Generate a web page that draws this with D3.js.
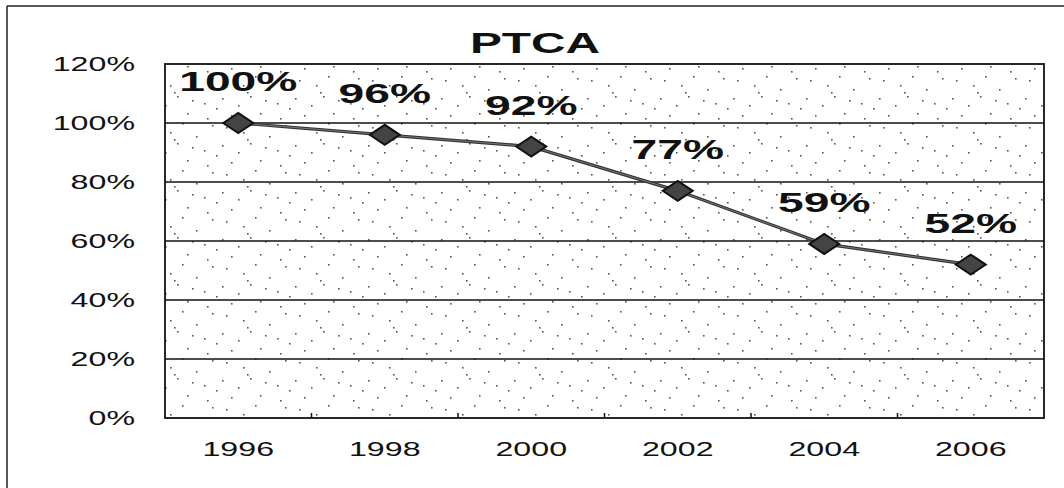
<!DOCTYPE html>
<html>
<head>
<meta charset="utf-8">
<script src="https://cdn.jsdelivr.net/npm/d3@7"></script>
<style>
  html, body { margin: 0; padding: 0; background: #fff; }
  svg { display: block; }
  text { font-family: Arial, "Liberation Sans", sans-serif; fill: #111; }
</style>
</head>
<body>
<svg id="chart" width="1064" height="488"></svg>
<script>
// ---- data ----
const categories = ["1996", "1998", "2000", "2002", "2004", "2006"];
const values = [100, 96, 92, 77, 59, 52];
const valueLabels = ["100%", "96%", "92%", "77%", "59%", "52%"];
const yTicks = [0, 20, 40, 60, 80, 100, 120];
const title = "PTCA";

// ---- layout ----
const W = 1064, H = 488;
const plot = { left: 165, right: 1044, top: 64, bottom: 418 };
const SX = 1.65; // horizontal stretch of the scanned original

const svg = d3.select("#chart");

// speckle texture (fixed, sparse pattern)
const defs = svg.append("defs");
const pat = defs.append("pattern")
  .attr("id", "speckle").attr("patternUnits", "userSpaceOnUse")
  .attr("width", 73).attr("height", 47);
[[3,4],[31,2],[58,9],[66,31],[12,21],[41,19],[24,38],[50,42],[7,33],[36,29],[70,14],[19,11],[46,6],[61,24],[28,45]]
  .forEach(([x, y]) => pat.append("rect").attr("x", x).attr("y", y)
    .attr("width", 1.6).attr("height", 1.6).attr("fill", "#555"));

// outer frame (top + left visible)
svg.append("line").attr("x1", 7).attr("x2", W).attr("y1", 6).attr("y2", 6)
  .attr("stroke", "#222").attr("stroke-width", 1.5);
svg.append("line").attr("x1", 7).attr("x2", 7).attr("y1", 6).attr("y2", H)
  .attr("stroke", "#222").attr("stroke-width", 1.5);

// scales
const x = d3.scaleBand().domain(categories).range([plot.left, plot.right]).padding(0);
const y = d3.scaleLinear().domain([0, 120]).range([plot.bottom, plot.top]);

// plot background
svg.append("rect")
  .attr("x", plot.left).attr("y", plot.top)
  .attr("width", plot.right - plot.left).attr("height", plot.bottom - plot.top)
  .attr("fill", "url(#speckle)");

// gridlines
svg.append("g").selectAll("line")
  .data(yTicks.filter(t => t > 0 && t < 120))
  .join("line")
  .attr("x1", plot.left).attr("x2", plot.right)
  .attr("y1", d => y(d)).attr("y2", d => y(d))
  .attr("stroke", "#111").attr("stroke-width", 1.6);

// plot border
svg.append("rect")
  .attr("x", plot.left).attr("y", plot.top)
  .attr("width", plot.right - plot.left).attr("height", plot.bottom - plot.top)
  .attr("fill", "none").attr("stroke", "#111").attr("stroke-width", 1.8);

// x ticks at category boundaries (inside)
svg.append("g").selectAll("line")
  .data(categories.slice(1))
  .join("line")
  .attr("x1", d => x(d)).attr("x2", d => x(d))
  .attr("y1", plot.bottom).attr("y2", plot.bottom - 5)
  .attr("stroke", "#111").attr("stroke-width", 1.5);

// y tick labels
svg.append("g").selectAll("text")
  .data(yTicks)
  .join("text")
  .attr("transform", d => `translate(135,${y(d) + 7}) scale(${SX},1)`)
  .attr("text-anchor", "end")
  .attr("font-size", 19.5)
  .text(d => d + "%");

// x labels
svg.append("g").selectAll("text")
  .data(categories)
  .join("text")
  .attr("transform", d => `translate(${x(d) + x.bandwidth() / 2},456) scale(${SX},1)`)
  .attr("text-anchor", "middle")
  .attr("font-size", 19.5)
  .text(d => d);

// title
svg.append("text")
  .attr("transform", `translate(535,53) scale(${SX},1)`)
  .attr("text-anchor", "middle")
  .attr("font-size", 29).attr("font-weight", "bold")
  .text(title);

// line
const pts = categories.map((c, i) => [x(c) + x.bandwidth() / 2, y(values[i])]);
svg.append("path")
  .attr("d", d3.line()(pts))
  .attr("fill", "none").attr("stroke", "#333").attr("stroke-width", 3.2);
svg.append("path")
  .attr("d", d3.line()(pts))
  .attr("fill", "none").attr("stroke", "#777").attr("stroke-width", 1);

// diamond markers
const dw = 15, dh = 10;
svg.append("g").selectAll("path")
  .data(pts)
  .join("path")
  .attr("d", ([px, py]) => `M${px - dw},${py} L${px},${py - dh} L${px + dw},${py} L${px},${py + dh} Z`)
  .attr("fill", "#444").attr("stroke", "#111").attr("stroke-width", 2);

// data labels
svg.append("g").selectAll("text")
  .data(pts)
  .join("text")
  .attr("transform", (d) => `translate(${d[0]},${d[1] - 32}) scale(${SX},1)`)
  .attr("text-anchor", "middle")
  .attr("font-size", 28).attr("font-weight", "bold")
  .text((d, i) => valueLabels[i]);
</script>
</body>
</html>
